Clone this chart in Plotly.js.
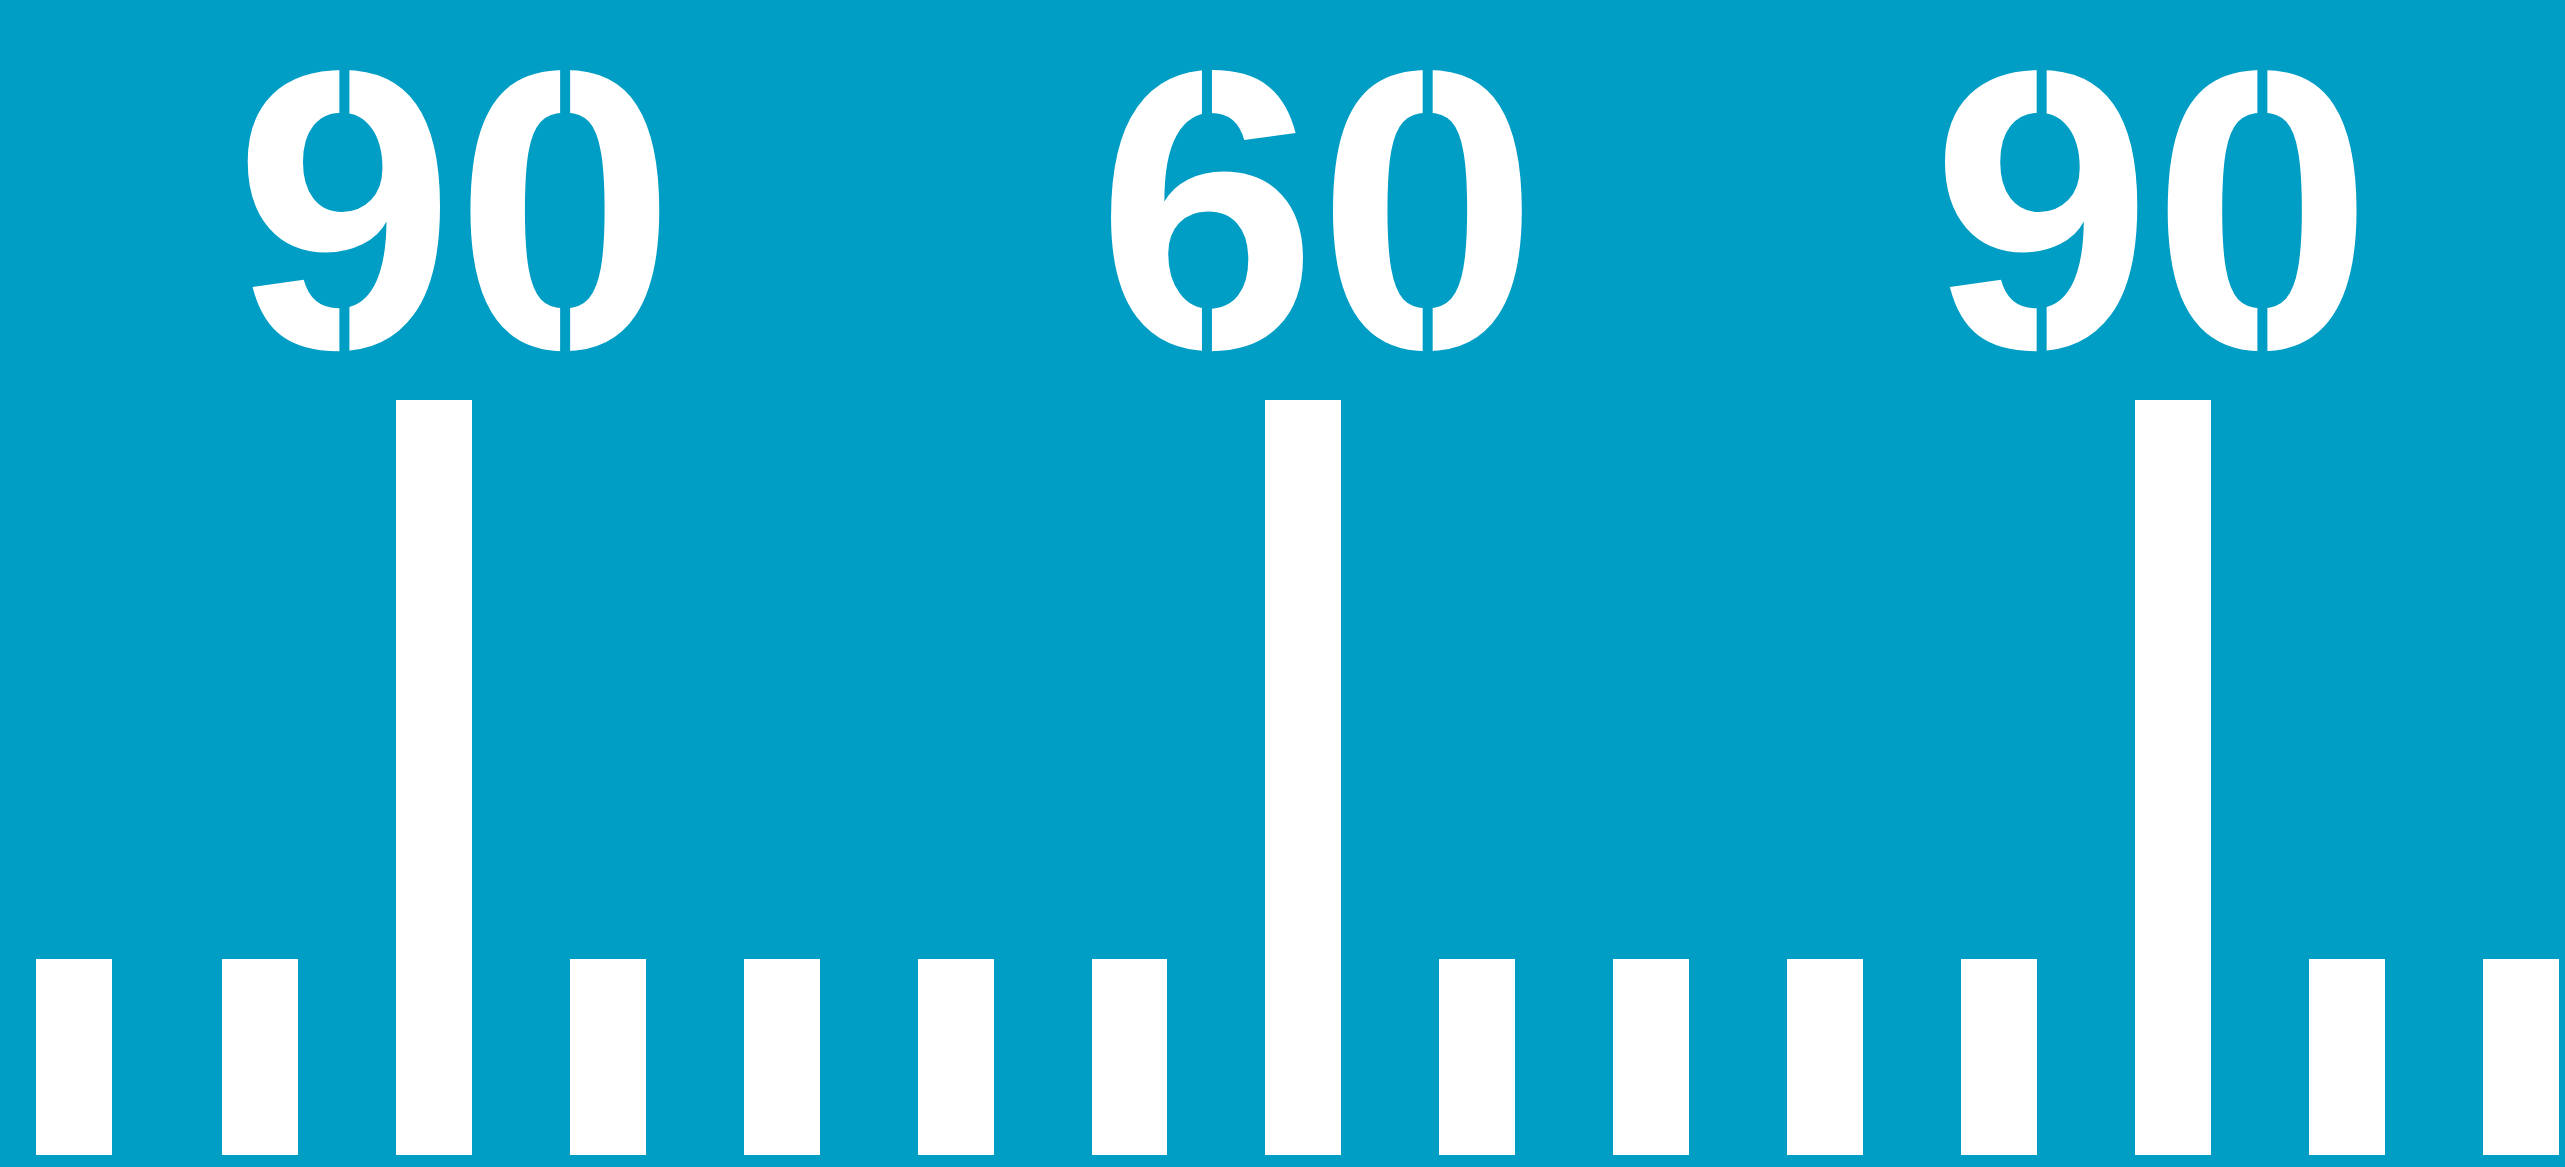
<!DOCTYPE html>
<html><head><meta charset="utf-8">
<script src="https://cdn.plot.ly/plotly-3.0.1.min.js"></script>
<style>html,body{margin:0;padding:0;background:#009DC5;overflow:hidden}</style>
</head><body><div id="chart" style="width:2565px;height:1167px"></div>
<script>
// Ruler ticks: position along the scale and height of each tick
const tickPositions = [-0.07, 1, 2, 3, 4, 5, 6, 7, 8, 9, 10, 11, 12, 13, 14];
const tickHeights   = [26, 26, 100, 26, 26, 26, 26, 100, 26, 26, 26, 26, 100, 26, 26];
// Labels above the major ticks
const labelPositions = [2.12, 7.08, 11.88];
const labelLevels    = [120.13, 120.13, 120.13];
const labelTexts     = ["90", "60", "90"];

const bg = '#009DC5';
const pxPerUnitY = 7.55;
const fontSize = 397;

const bars = {
  type: 'bar',
  x: tickPositions,
  y: tickHeights,
  width: 0.437,
  marker: {color: '#FFFFFF', line: {width: 0}},
  hoverinfo: 'skip'
};

const labels = {
  type: 'scatter',
  mode: 'text',
  x: labelPositions,
  y: labelLevels,
  text: labelTexts,
  textposition: 'middle center',
  cliponaxis: false,
  textfont: {family: 'Liberation Sans, Arial, sans-serif', size: fontSize, color: '#FFFFFF', weight: 'bold'},
  hoverinfo: 'skip'
};

// Stencil-style gaps through each digit (top and bottom strokes), tied to the label positions
const halfAdv = fontSize * 0.556 / 2;           // half of one digit advance
const baseOff = 0.25 * fontSize;                // baseline below the text anchor (px)
const digitTopOff = baseOff - 0.716 * fontSize; // digit top relative to anchor (px, down positive)
const cuts = [
  [-(digitTopOff - 20), -(digitTopOff + 65)],   // through the top stroke
  [-(baseOff - 70), -(baseOff + 20)]            // through the bottom stroke
];
const shapes = [];
labelPositions.forEach((xp, i) => {
  [-halfAdv, halfAdv].forEach(dx => {
    cuts.forEach(([a, b]) => {
      shapes.push({
        type: 'rect', layer: 'above',
        xref: 'x', xsizemode: 'pixel', xanchor: xp, x0: dx - 5, x1: dx + 5,
        yref: 'y', ysizemode: 'pixel', yanchor: labelLevels[i], y0: a, y1: b,
        fillcolor: bg, line: {width: 0}
      });
    });
  });
});

const layout = {
  width: 2565, height: 1167,
  margin: {l: 0, r: 0, t: 0, b: 0, pad: 0},
  paper_bgcolor: bg, plot_bgcolor: bg,
  showlegend: false,
  bargap: 0,
  xaxis: {range: [-0.4951, 14.2548], visible: false, fixedrange: true},
  yaxis: {range: [-12 / pxPerUnitY, 1155 / pxPerUnitY], visible: false, fixedrange: true},
  shapes: shapes
};

Plotly.newPlot('chart', [bars, labels], layout, {staticPlot: true, displayModeBar: false});
</script></body></html>
